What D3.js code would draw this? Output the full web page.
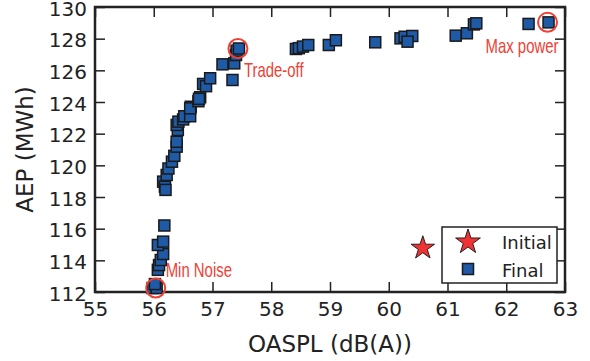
<!DOCTYPE html>
<html>
<head>
<meta charset="utf-8">
<script src="https://cdn.jsdelivr.net/npm/d3@7"></script>
<style>
  body { margin: 0; background: #fff; }
  svg { display: block; }
  text { font-family: "DejaVu Sans", sans-serif; fill: #222; }
  .note { font-family: "Liberation Sans", Arial, sans-serif; fill: #ee4136; font-size: 21px; }
</style>
</head>
<body>
<div class="container"></div>
<script>
// final designs (OASPL, AEP)
var finalX = [55.98, 56.05, 56.02, 56.07, 56.09, 56.12, 56.16, 56.07, 56.16, 56.18,
              56.16, 56.19, 56.20, 56.22, 56.25, 56.31, 56.35, 56.39, 56.39, 56.41,
              56.39, 56.42, 56.50, 56.52, 56.62, 56.63, 56.62, 56.76, 56.79, 56.77,
              56.84, 56.89, 56.96, 57.17, 57.34, 57.37, 57.40, 57.41, 57.45,
              58.42, 58.47, 58.54, 58.63, 58.98, 59.10, 59.77, 60.20, 60.27, 60.40,
              60.32, 61.14, 61.33, 61.45, 61.49, 62.38, 62.72];
var finalY = [112.25, 112.25, 112.5, 113.4, 113.7, 114.02, 114.4, 114.97, 115.18, 116.2,
              118.97, 118.65, 118.45, 119.39, 119.8, 120.23, 120.6, 121.18, 121.49, 122.23,
              122.55, 122.76, 122.9, 123.1, 123.1, 123.7, 123.6, 124.05, 124.3, 124.2,
              125.14, 125.0, 125.5, 126.38, 125.39, 126.44, 126.97, 127.24, 127.38,
              127.35, 127.4, 127.5, 127.6, 127.6, 127.9, 127.77, 128.02, 128.12, 128.17,
              127.81, 128.19, 128.34, 128.9, 128.97, 128.93, 129.03];
var initialX = [60.58];
var initialY = [114.84];

var xTicks = [55, 56, 57, 58, 59, 60, 61, 62, 63];
var yTicks = [112, 114, 116, 118, 120, 122, 124, 126, 128, 130];

var noteLabels = ['Min Noise', 'Trade-off', 'Max power'];
var noteIndex = [1, 38, 55];

var width = 590, height = 361;
var margin = {top: 7, right: 25, bottom: 69, left: 95};
var w = width - margin.left - margin.right;
var h = height - margin.top - margin.bottom;

var svg = d3.select('.container')
            .append('svg')
                .attr('width', width)
                .attr('height', height);

var g = svg.append('g')
            .attr('transform', 'translate(' + margin.left + ',' + margin.top + ')');

var x = d3.scaleLinear().domain([55, 63]).range([0, w]);
var y = d3.scaleLinear().domain([112, 130]).range([h, 0]);

// axes, ticks pointing inward
function styleAxis(sel) {
    sel.select('.domain').remove();
    sel.selectAll('line').attr('stroke', '#222').attr('stroke-width', 1.5);
    sel.selectAll('text').style('font-size', '20px').attr('fill', '#222');
}

g.append('g')
    .attr('transform', 'translate(0,' + h + ')')
    .call(d3.axisBottom(x).tickValues(xTicks).tickFormat(d3.format('d'))
            .tickSizeInner(-10).tickSizeOuter(0).tickPadding(10))
    .call(styleAxis);

g.append('g')
    .call(d3.axisLeft(y).tickValues(yTicks).tickFormat(d3.format('d'))
            .tickSizeInner(-10).tickSizeOuter(0).tickPadding(8))
    .call(styleAxis)
    .selectAll('text').attr('dy', '0.4em');

g.append('g')
    .call(d3.axisTop(x).tickValues(xTicks).tickFormat('')
            .tickSizeInner(-10).tickSizeOuter(0))
    .call(styleAxis);

g.append('g')
    .attr('transform', 'translate(' + w + ',0)')
    .call(d3.axisRight(y).tickValues(yTicks).tickFormat('')
            .tickSizeInner(-10).tickSizeOuter(0))
    .call(styleAxis);

g.append('rect')
    .attr('width', w)
    .attr('height', h)
    .style('fill', 'none')
    .style('stroke', '#222')
    .style('stroke-width', 2.5);

// markers
var sq = 11;
g.selectAll('.final')
    .data(finalX)
    .enter()
    .append('rect')
        .attr('class', 'final')
        .attr('x', function(d) { return x(d) - sq / 2; })
        .attr('y', function(d, i) { return y(finalY[i]) - sq / 2; })
        .attr('width', sq)
        .attr('height', sq)
        .style('fill', '#1f5aa6')
        .style('stroke', '#1a1a1a')
        .style('stroke-width', 1.5);

var star = d3.symbol().type(d3.symbolStar).size(170);

g.selectAll('.initial')
    .data(initialX)
    .enter()
    .append('path')
        .attr('class', 'initial')
        .attr('d', star)
        .attr('transform', function(d, i) { return 'translate(' + x(d) + ',' + (y(initialY[i]) + 1) + ')'; })
        .style('fill', '#f03232')
        .style('stroke', '#222')
        .style('stroke-width', 1);

// annotations
var notes = g.selectAll('.ann')
    .data(noteIndex)
    .enter()
    .append('g')
        .attr('class', 'ann');

notes.append('circle')
    .attr('cx', function(d) { return x(finalX[d]) - 1; })
    .attr('cy', function(d) { return y(finalY[d]); })
    .attr('r', 9.5)
    .style('fill', 'none')
    .style('stroke', '#ee4136')
    .style('stroke-width', 2);

// condensed look: squeeze the label horizontally
var noteDx = [9, 5, -63];
var noteDy = [-11, 28.5, 31];
notes.append('text')
    .attr('class', 'note')
    .attr('transform', function(d, i) {
        return 'translate(' + (x(finalX[d]) + noteDx[i]) + ',' + (y(finalY[d]) + noteDy[i]) + ') scale(0.71,1)';
    })
    .text(function(d, i) { return noteLabels[i]; });

// legend
var legend = svg.append('g')
    .attr('transform', 'translate(442,227)');

legend.append('rect')
    .attr('width', 115)
    .attr('height', 56)
    .style('fill', '#fff')
    .style('stroke', '#222')
    .style('stroke-width', 1.5);

legend.append('path')
    .attr('d', d3.symbol().type(d3.symbolStar).size(190))
    .attr('transform', 'translate(26,15)')
    .style('fill', '#f03232')
    .style('stroke', '#222')
    .style('stroke-width', 1);

legend.append('rect')
    .attr('x', 26 - 5.5)
    .attr('y', 42 - 5.5)
    .attr('width', sq)
    .attr('height', sq)
    .style('fill', '#1f5aa6')
    .style('stroke', '#1a1a1a')
    .style('stroke-width', 1.5);

legend.append('text').attr('x', 60).attr('y', 22).style('font-size', '18px').text('Initial');
legend.append('text').attr('x', 60).attr('y', 50).style('font-size', '18px').text('Final');

// axis labels
svg.append('text')
    .attr('x', margin.left + w / 2)
    .attr('y', 352)
    .attr('text-anchor', 'middle')
    .style('font-size', '23px')
    .text('OASPL (dB(A))');

svg.append('text')
    .attr('transform', 'translate(33,' + (margin.top + h / 2) + ') rotate(-90)')
    .attr('text-anchor', 'middle')
    .style('font-size', '23px')
    .text('AEP (MWh)');
</script>
</body>
</html>
